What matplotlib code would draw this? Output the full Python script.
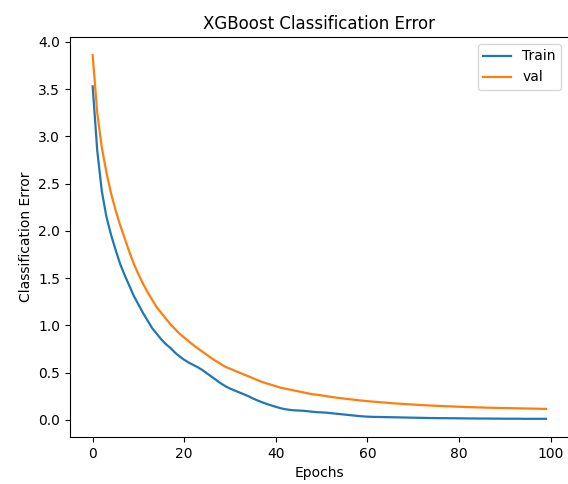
import matplotlib
matplotlib.use("Agg")
import matplotlib.pyplot as plt
import numpy as np

# per-epoch error
train_err = [
    3.53, 2.85, 2.42, 2.15, 1.96, 1.80, 1.65, 1.53, 1.42, 1.31,
    1.22, 1.13, 1.05, 0.97, 0.91, 0.85, 0.80, 0.76, 0.71, 0.67,
    0.635, 0.605, 0.58, 0.555, 0.525, 0.49, 0.455, 0.42, 0.385, 0.355,
    0.33, 0.31, 0.29, 0.27, 0.25, 0.225, 0.205, 0.185, 0.168, 0.152,
    0.137, 0.123, 0.112, 0.105, 0.10, 0.098, 0.095, 0.09, 0.085, 0.08,
    0.078, 0.075, 0.07, 0.065, 0.06, 0.055, 0.05, 0.045, 0.04, 0.036,
    0.033, 0.031, 0.030, 0.029, 0.028, 0.027, 0.026, 0.025, 0.024, 0.023,
    0.022, 0.021, 0.020, 0.019, 0.018, 0.018, 0.017, 0.017, 0.016, 0.016,
    0.015, 0.015, 0.014, 0.014, 0.013, 0.013, 0.013, 0.012, 0.012, 0.012,
    0.011, 0.011, 0.011, 0.011, 0.010, 0.010, 0.010, 0.010, 0.010, 0.010,
]
val_err = [
    3.86, 3.25, 2.88, 2.62, 2.40, 2.22, 2.06, 1.92, 1.78, 1.65,
    1.54, 1.44, 1.35, 1.27, 1.19, 1.13, 1.07, 1.01, 0.96, 0.91,
    0.87, 0.83, 0.79, 0.755, 0.72, 0.685, 0.65, 0.62, 0.59, 0.56,
    0.54, 0.52, 0.50, 0.48, 0.46, 0.44, 0.42, 0.40, 0.385, 0.37,
    0.355, 0.34, 0.33, 0.32, 0.31, 0.30, 0.29, 0.28, 0.27, 0.265,
    0.258, 0.25, 0.243, 0.236, 0.23, 0.224, 0.218, 0.212, 0.207, 0.202,
    0.197, 0.193, 0.189, 0.185, 0.181, 0.177, 0.173, 0.170, 0.167, 0.164,
    0.161, 0.158, 0.155, 0.153, 0.150, 0.148, 0.146, 0.144, 0.142, 0.140,
    0.138, 0.136, 0.134, 0.133, 0.131, 0.130, 0.128, 0.127, 0.126, 0.125,
    0.124, 0.123, 0.122, 0.121, 0.120, 0.119, 0.118, 0.117, 0.116, 0.115,
]
epochs = np.arange(len(train_err))

fig = plt.figure(figsize=(5.68, 4.84), dpi=100)
# axes run past the right edge of the canvas: the reference is cropped there
ax = fig.add_axes([70 / 568, 47 / 484, 530 / 568, 400 / 484])
ax.plot(epochs, train_err, color="#1f77b4", lw=1.6, label="Train")
ax.plot(epochs, val_err, color="#ff7f0e", lw=1.6, label="val")
ax.set_xlim(-4.95, 110.8)
ax.spines["right"].set_visible(False)
ax.set_title("XGBoost Classification Error", fontsize=12, x=0.47)
ax.set_xlabel("Epochs", x=0.47)
ax.set_ylabel("Classification Error")
ax.set_xticks([0, 20, 40, 60, 80, 100])
ax.legend(loc="upper right", bbox_to_anchor=(0.94, 1.0))
fig.savefig("out.png", dpi=100)
